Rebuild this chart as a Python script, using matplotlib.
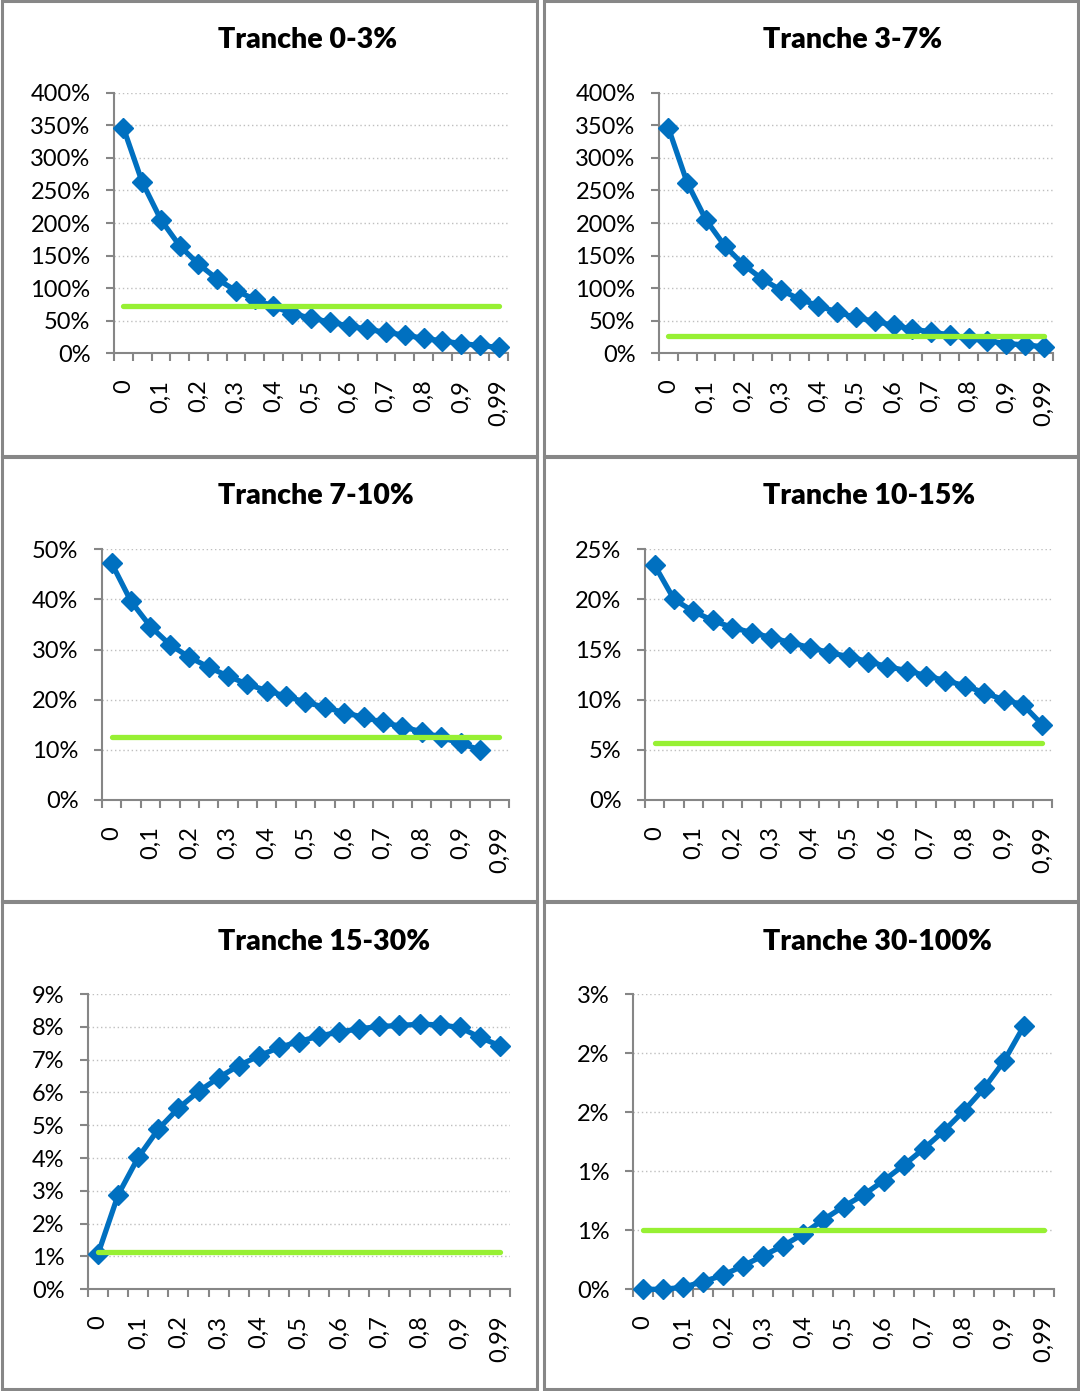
import numpy as np
import matplotlib
matplotlib.use("Agg")
import matplotlib.pyplot as plt
from matplotlib.patches import Rectangle

plt.rcParams['font.family'] = ['Lato', 'DejaVu Sans']

# categories (x axis) and the labels shown every other category
categories = ["0", "0,05", "0,1", "0,15", "0,2", "0,25", "0,3", "0,35", "0,4", "0,45",
              "0,5", "0,55", "0,6", "0,65", "0,7", "0,75", "0,8", "0,85", "0,9", "0,95", "0,99"]
x_labels = categories[::2]

titles = ["Tranche 0-3%", "Tranche 3-7%", "Tranche 7-10%",
          "Tranche 10-15%", "Tranche 15-30%", "Tranche 30-100%"]

# series values in percent (nan = no point)
t0_3 = [346, 263, 205, 165, 137, 114, 96, 83, 72, 61, 54, 48, 42, 37, 32, 28, 23, 19, 15, 12, 9]
t3_7 = [346, 262, 205, 165, 136, 114, 97, 83, 73, 63, 55, 49, 43, 37, 33, 28, 23, 19, 15, 13, 10]
t7_10 = [47.2, 39.6, 34.6, 31.0, 28.5, 26.5, 24.7, 23.1, 21.8, 20.7, 19.5, 18.5, 17.4, 16.5,
         15.5, 14.6, 13.6, 12.5, 11.3, 10.0, np.nan]
t10_15 = [23.4, 20.0, 18.8, 17.9, 17.2, 16.7, 16.2, 15.7, 15.2, 14.7, 14.3, 13.8, 13.3, 12.9,
          12.4, 11.9, 11.4, 10.7, 10.0, 9.5, 7.5]
t15_30 = [1.08, 2.88, 4.02, 4.88, 5.52, 6.03, 6.45, 6.82, 7.11, 7.37, 7.55, 7.72, 7.84, 7.94,
          8.01, 8.04, 8.08, 8.06, 7.98, 7.68, 7.42]
t30_100 = [0, 0, 0.017, 0.065, 0.12, 0.20, 0.285, 0.37, 0.47, 0.59, 0.70, 0.80, 0.92, 1.05,
           1.19, 1.34, 1.51, 1.70, 1.93, 2.23, np.nan]

# flat reference levels (green lines), percent
levels = [73, 26.5, 12.5, 5.7, 1.15, 0.5]

# y ticks and their displayed labels
y_ticks = [
    [0, 50, 100, 150, 200, 250, 300, 350, 400],
    [0, 50, 100, 150, 200, 250, 300, 350, 400],
    [0, 10, 20, 30, 40, 50],
    [0, 5, 10, 15, 20, 25],
    [0, 1, 2, 3, 4, 5, 6, 7, 8, 9],
    [0, 0.5, 1.0, 1.5, 2.0, 2.5],
]
y_labels = [
    ["0%", "50%", "100%", "150%", "200%", "250%", "300%", "350%", "400%"],
    ["0%", "50%", "100%", "150%", "200%", "250%", "300%", "350%", "400%"],
    ["0%", "10%", "20%", "30%", "40%", "50%"],
    ["0%", "5%", "10%", "15%", "20%", "25%"],
    ["0%", "1%", "2%", "3%", "4%", "5%", "6%", "7%", "8%", "9%"],
    ["0%", "1%", "1%", "2%", "2%", "3%"],
]
series = [t0_3, t3_7, t7_10, t10_15, t15_30, t30_100]

W, H = 1080, 1391
fig = plt.figure(figsize=(W / 100, H / 100), dpi=100)

# pixel layout: (left, right, top, bottom) of each plot area
boxes = [(114, 508, 92.7, 353.3), (659, 1053, 92.7, 353.3),
         (102, 509, 549.3, 800), (645, 1052, 549.3, 800),
         (88, 510, 994, 1289.3), (633, 1054, 994, 1289.3)]
panels = [(2, 537, 1, 456), (544, 1078, 1, 456),
          (2, 537, 457, 901), (544, 1078, 457, 901),
          (2, 537, 902, 1389), (544, 1078, 902, 1389)]
title_pos = [(218, 40), (763, 40), (218, 496), (763, 496), (218, 942), (763, 942)]

blue = '#0070C0'
green = '#97F033'
axis_grey = '#868686'

for (pl, pr, pt, pb) in panels:
    fig.add_artist(Rectangle((pl / W, 1 - pb / H), (pr - pl) / W, (pb - pt) / H,
                             transform=fig.transFigure, fill=False,
                             ec='#878787', lw=2.2))

x = np.arange(len(categories))
for i in range(6):
    l, r, t, b = boxes[i]
    ax = fig.add_axes([l / W, 1 - b / H, (r - l) / W, (b - t) / H])
    ax.plot(x, series[i], color=blue, lw=3.8, marker='D', ms=10,
            mec=blue, mfc=blue, clip_on=False, zorder=3)
    ax.plot(x, [levels[i]] * len(x), color=green, lw=3.8,
            solid_capstyle='round', clip_on=False, zorder=4)

    ax.set_xlim(-0.5, len(x) - 0.5)
    ax.set_ylim(y_ticks[i][0], y_ticks[i][-1])
    ax.set_yticks(y_ticks[i])
    ax.set_yticklabels(y_labels[i])

    # tick marks between categories, labels on every other category
    ax.set_xticks(np.arange(-0.5, len(x), 1))
    ax.set_xticklabels([])
    ax.set_xticks(x[::2], minor=True)
    ax.set_xticklabels(x_labels, minor=True, rotation=90, va='top')

    ax.tick_params(axis='x', which='major', length=6, width=1.5, color=axis_grey)
    ax.tick_params(axis='x', which='minor', length=0, pad=19, labelsize=17)
    ax.tick_params(axis='y', length=6, width=1.5, color=axis_grey, pad=11, labelsize=17)

    for s in ['top', 'right']:
        ax.spines[s].set_visible(False)
    for s in ['left', 'bottom']:
        ax.spines[s].set_color(axis_grey)
        ax.spines[s].set_linewidth(1.5)

    ax.yaxis.grid(True, linestyle=(0, (1, 2)), color='#BFBFBF', lw=1)
    ax.set_axisbelow(True)

    tx, ty = title_pos[i]
    fig.text(tx / W, 1 - ty / H, titles[i], ha='left', va='center',
             fontsize=20.5, fontweight='heavy')

fig.savefig("out.png", dpi=100)
